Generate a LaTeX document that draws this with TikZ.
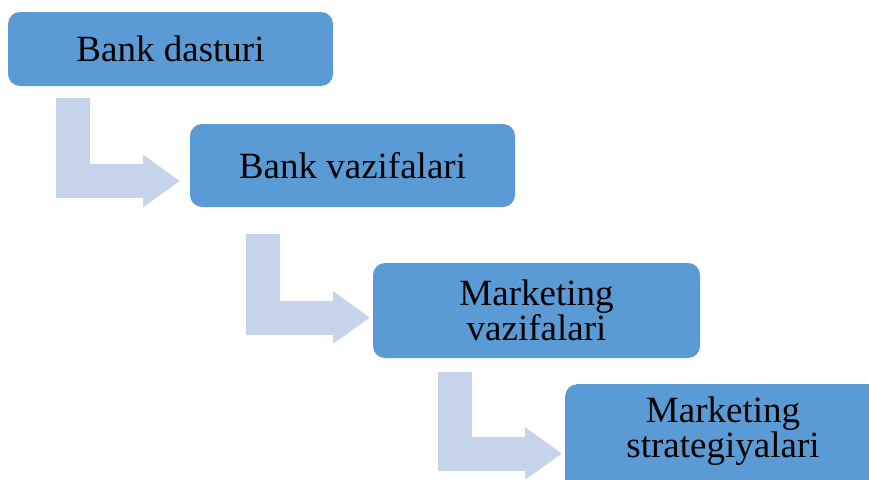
\documentclass[tikz,border=0pt]{standalone}
\usepackage{fontspec}
\setmainfont{Liberation Serif}
\usetikzlibrary{arrows.meta}
\definecolor{boxblue}{HTML}{5B9BD5}
\definecolor{arrowblue}{HTML}{C5D4EA}
\tikzset{
  box/.style={fill=boxblue, draw=none, rounded corners=12pt, inner sep=0pt,
    align=center, text=black, font=\fontsize{37}{35}\selectfont},
  boxtext/.style={inner sep=0pt, align=center, text=black, font=\fontsize{37}{35}\selectfont},
  bentarrow/.style={draw=arrowblue, line width=34pt, line join=miter, line cap=butt,
    -{Triangle[length=37pt, width=50pt]}}
}
\begin{document}
\begin{tikzpicture}[x=1pt, y=-1pt]
\useasboundingbox (0,0) rectangle (869,479);
\clip (0,0) rectangle (869,479);
\fill[white] (0,0) rectangle (869,479);
% boxes
\node[box, minimum width=325pt, minimum height=74pt] (b1) at (170.5,49) {Bank dasturi};
\node[box, minimum width=325pt, minimum height=83pt] (b2) at (352.5,165.5) {Bank vazifalari};
\node[box, minimum width=327pt, minimum height=95pt] (b3) at (536.5,310.5) {Marketing\\vazifalari};
\node[box, minimum width=316pt, minimum height=110pt, anchor=north west] (b4) at (565,384) {};
\node[boxtext] (t4) at (723,431) {Marketing\\strategiyalari};
% bent arrows
\coordinate (a1s) at (72.5,98);
\coordinate (a1e) at (180,181);
\coordinate (a2s) at (263,234);
\coordinate (a2e) at (370,317.5);
\coordinate (a3s) at (454.5,372);
\coordinate (a3e) at (562,453.5);
\draw[bentarrow] (a1s) |- (a1e);
\draw[bentarrow] (a2s) |- (a2e);
\draw[bentarrow] (a3s) |- (a3e);
\end{tikzpicture}
\end{document}
